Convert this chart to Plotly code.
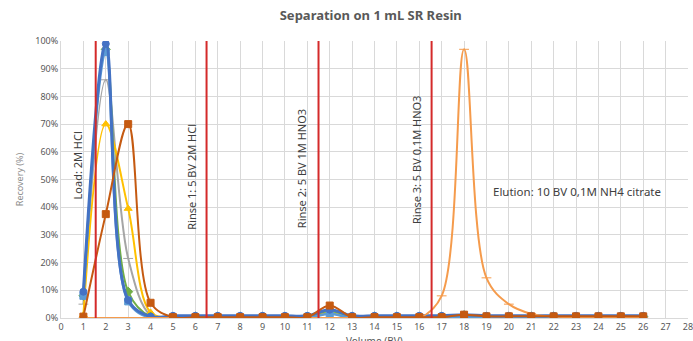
import plotly.graph_objects as go

volume = list(range(1, 27))

brown_sq = [0.5, 37.5, 70, 5.5, 0.3, 0.3, 0.3, 0.3, 0.3, 0.3, 0.3, 4.5, 0.3, 0.3, 0.3, 0.3, 0.3, 1.2, 0.6, 0.6, 0.6, 0.6, 0.6, 0.6, 0.6, 0.6]
yellow = [1, 70, 39.5, 2, 0.2, 0.2, 0.2, 0.2, 0.2, 0.2, 0.2, 2, 0.2, 0.2, 0.2, 0.2, 0.2, 0.5, 0.3, 0.3, 0.3, 0.3, 0.3, 0.3, 0.3, 0.3]
gray = [5, 86, 21.5, 1, 0.2, 0.2, 0.2, 0.2, 0.2, 0.2, 0.2, 1.5, 0.2, 0.2, 0.2, 0.2, 0.2, 0.5, 0.3, 0.3, 0.3, 0.3, 0.3, 0.3, 0.3, 0.3]
green = [8, 97, 9.5, 0.5, 0.5, 0.5, 0.5, 0.5, 0.5, 0.5, 0.5, 2.5, 0.5, 0.5, 0.5, 0.5, 0.5, 1, 0.5, 0.5, 0.5, 0.5, 0.5, 0.5, 0.5, 0.5]
lightblue = [8, 96, 6, 0, 0, 0, 0, 0, 0, 0, 0, 1.5, 0, 0, 0, 0, 0, 0.3, 0, 0, 0, 0, 0, 0, 0, 0]
blue = [9.5, 99, 6.5, 0.5, 0.8, 0.8, 0.8, 0.8, 0.8, 0.8, 0.8, 3, 0.8, 0.8, 0.8, 0.8, 0.8, 1.2, 0.8, 0.8, 0.8, 0.8, 0.8, 0.8, 0.8, 0.8]
elution = [0, 0, 0, 0, 0, 0, 0, 0, 0, 0, 0, 0, 0, 0, 0, 0, 8, 97, 14.5, 5, 1.5, 0.5, 0.3, 0.2, 0, 0]

step_lines = [1.55, 6.5, 11.5, 16.55]
step_labels = ["Load: 2M HCl", "Rinse 1: 5 BV 2M HCl", "Rinse 2: 5 BV 1M HNO3", "Rinse 3: 5 BV 0,1M HNO3"]
label_x = [0.75, 5.85, 10.75, 15.85]
label_y = [55, 51, 54, 57]
elution_label = "Elution: 10 BV 0,1M NH4 citrate"

series = [
    (gray, "#A5A5A5", "line-ew", 2),
    (yellow, "#FFC000", "triangle-up", 2),
    (green, "#70AD47", "diamond", 2),
    (lightblue, "#5B9BD5", "square", 2.5),
    (blue, "#4472C4", "circle", 3),
    (elution, "#F59B4C", "line-ew", 2),
    (brown_sq, "#C55A11", "square", 2),
]

fig = go.Figure()
for ys, col, sym, w in series:
    fig.add_trace(go.Scatter(
        x=volume, y=ys, mode="lines+markers",
        line=dict(color=col, width=w, shape="spline", smoothing=1.0),
        marker=dict(symbol=sym, size=7, color=col, line=dict(color=col, width=1)),
        showlegend=False, cliponaxis=True,
    ))

for xv in step_lines:
    fig.add_shape(type="line", x0=xv, x1=xv, y0=0, y1=100, xref="x", yref="y",
                  line=dict(color="#D42A2A", width=2), layer="above")

for lx, ly, txt in zip(label_x, label_y, step_labels):
    fig.add_annotation(x=lx, y=ly, text=txt, textangle=-90, showarrow=False,
                       font=dict(family="Noto Sans", size=11, color="#404040"),
                       xref="x", yref="y")

fig.add_annotation(x=19.2, y=45.5, text=elution_label, showarrow=False, xanchor="left",
                   font=dict(family="Noto Sans", size=11.5, color="#404040"), xref="x", yref="y")

fig.add_annotation(x=0.5, y=-0.052, xref="paper", yref="paper", text="Volume (BV)",
                   showarrow=False, xanchor="center", yanchor="top",
                   font=dict(family="Noto Sans", size=10, color="#595959"))

fig.update_layout(
    width=693, height=341,
    margin=dict(l=61, r=5, t=41, b=23),
    paper_bgcolor="white", plot_bgcolor="white",
    title=dict(text="<b>Separation on 1 mL SR Resin</b>", x=0.535, xanchor="center", y=0.955, yanchor="middle",
               font=dict(family="Noto Sans", size=13, color="#595959")),
    font=dict(family="Noto Sans", color="#595959"),
    xaxis=dict(range=[0, 28], dtick=1, tick0=0, showgrid=True, gridcolor="#D9D9D9", gridwidth=1,
               zeroline=False, showline=True, linecolor="#D9D9D9", ticks="", automargin=False,
               ticklabeloverflow="allow",
               tickfont=dict(size=9, color="#595959")),
    yaxis=dict(range=[0, 100], dtick=10, showgrid=True, gridcolor="#D9D9D9", gridwidth=1,
               zeroline=False, showline=True, linecolor="#D9D9D9", ticks="", automargin=False,
               ticksuffix="%", tickfont=dict(size=9, color="#595959"),
               title=dict(text="Recovery (%)", font=dict(size=9, color="#8C8C8C"), standoff=10)),
)

fig.write_html("out.html")
